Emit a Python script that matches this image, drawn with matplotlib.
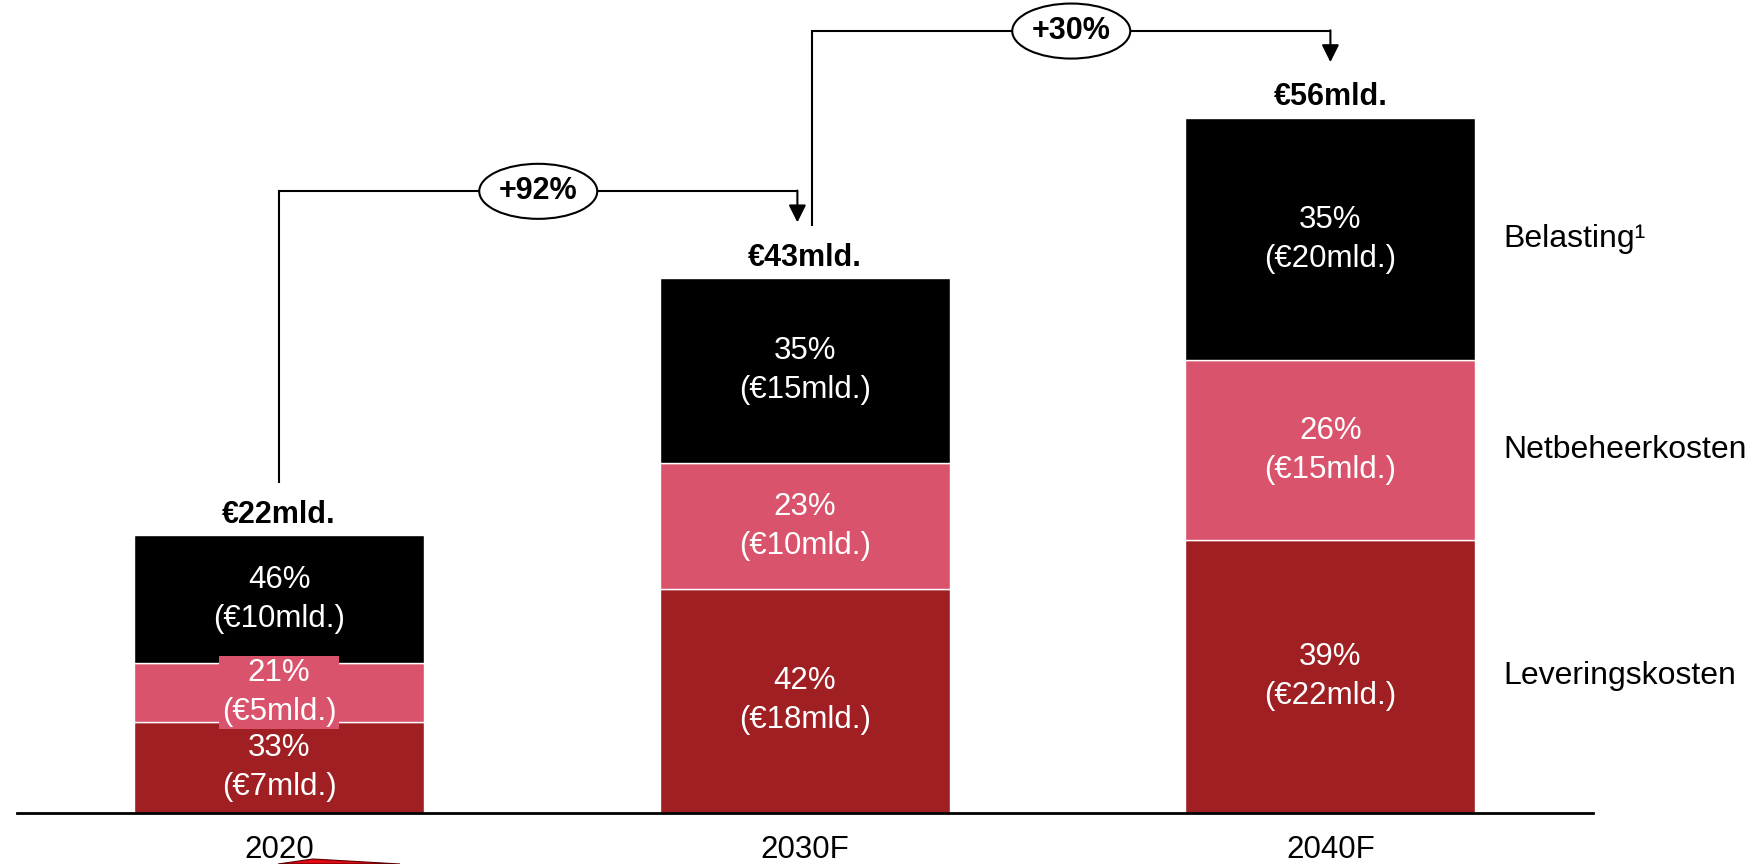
import matplotlib.pyplot as plt
from matplotlib.patches import Ellipse, Polygon
import numpy as np

plt.rcParams['font.family'] = ['Liberation Sans', 'DejaVu Sans']

# data (mld. euro)
years = ['2020', '2030F', '2040F']
levering = [7.3, 18.0, 21.9]
netbeheer = [4.7, 10.1, 14.5]
belasting = [10.3, 14.9, 19.5]
pct_levering = ['33%', '42%', '39%']
pct_netbeheer = ['21%', '23%', '26%']
pct_belasting = ['46%', '35%', '35%']
amt_levering = ['(€7mld.)', '(€18mld.)', '(€22mld.)']
amt_netbeheer = ['(€5mld.)', '(€10mld.)', '(€15mld.)']
amt_belasting = ['(€10mld.)', '(€15mld.)', '(€20mld.)']
totals_txt = ['€22mld.', '€43mld.', '€56mld.']
series_names = ['Leveringskosten', 'Netbeheerkosten', 'Belasting¹']
growth = ['+92%', '+30%']

col_red = '#A01F22'
col_pink = '#DA536C'
col_black = '#000000'

fig = plt.figure(figsize=(17.54, 8.64), dpi=100)
ax = fig.add_axes([0.00969, 0.0596, 0.8985, 0.9404])

x = np.arange(len(years))
w = 0.552
lev = np.array(levering)
net = np.array(netbeheer)
bel = np.array(belasting)
tot = lev + net + bel

ax.bar(x, lev, w, color=col_red, edgecolor='white', linewidth=1)
ax.bar(x, net, w, bottom=lev, color=col_pink, edgecolor='white', linewidth=1)
ax.bar(x, bel, w, bottom=lev + net, color=col_black, edgecolor='white', linewidth=1)

fs = 22.5
ls = 1.38
for i in range(len(years)):
    ax.text(x[i], lev[i] / 2, pct_levering[i] + '\n' + amt_levering[i],
            ha='center', va='center', color='white', fontsize=fs, linespacing=ls)
    kw = {}
    if i == 0:
        # small segment: label sits on its own pink box
        kw['bbox'] = dict(boxstyle='square,pad=0.08', facecolor=col_pink, edgecolor='none')
    ax.text(x[i], lev[i] + net[i] / 2, pct_netbeheer[i] + '\n' + amt_netbeheer[i],
            ha='center', va='center', color='white', fontsize=fs, linespacing=ls, zorder=5, **kw)
    ax.text(x[i], lev[i] + net[i] + bel[i] / 2, pct_belasting[i] + '\n' + amt_belasting[i],
            ha='center', va='center', color='white', fontsize=fs, linespacing=ls)
    ax.text(x[i], tot[i] + 0.45, totals_txt[i], ha='center', va='bottom',
            fontsize=22, fontweight='bold')

# series names next to the last bar
last = len(years) - 1
mids = [lev[last] / 2, lev[last] + net[last] / 2, lev[last] + net[last] + bel[last] / 2]
for name, m in zip(series_names, mids):
    ax.text(2.329, m, name, ha='left', va='center', fontsize=23)

# growth brackets
start_x = [0, 1.014]
end_x = [0.986, 2.0]
for k in range(len(growth)):
    i, j = k, k + 1
    y0 = tot[i] + 4.3
    lvl = tot[j] + 7
    tip = tot[j] + 4.5
    ax.plot([start_x[k], start_x[k], end_x[k]], [y0, lvl, lvl], color='black', lw=1.5,
            solid_joinstyle='miter')
    ax.annotate('', xy=(end_x[k], tip), xytext=(end_x[k], lvl + 0.06),
                arrowprops=dict(arrowstyle='-|>,head_length=0.5,head_width=0.25',
                                mutation_scale=21, color='black', lw=1.5,
                                shrinkA=0, shrinkB=0))
    cx = (start_x[k] + end_x[k]) / 2
    ax.add_patch(Ellipse((cx, lvl), 0.2245, 4.43, facecolor='white', edgecolor='black',
                         lw=1.5, zorder=4))
    ax.text(cx, lvl, growth[k], ha='center', va='center', fontsize=22,
            fontweight='bold', zorder=5)

ax.set_xlim(-0.4986, 2.4995)
ax.set_ylim(0, 65.4)
ax.set_xticks(x)
ax.set_xticklabels(years, fontsize=fs)
ax.tick_params(axis='x', length=0, pad=16)
ax.set_yticks([])
for s in ['top', 'right', 'left']:
    ax.spines[s].set_visible(False)
ax.spines['bottom'].set_linewidth(2)

# bit of red logo cut off at the bottom edge
fig.patches.append(Polygon([[278 / 1754, 0], [313 / 1754, 5 / 864], [400 / 1754, 0]],
                           closed=True, transform=fig.transFigure,
                           facecolor='#E30613', edgecolor='#5a0000', lw=0.8))

fig.savefig('out.png', dpi=100)
